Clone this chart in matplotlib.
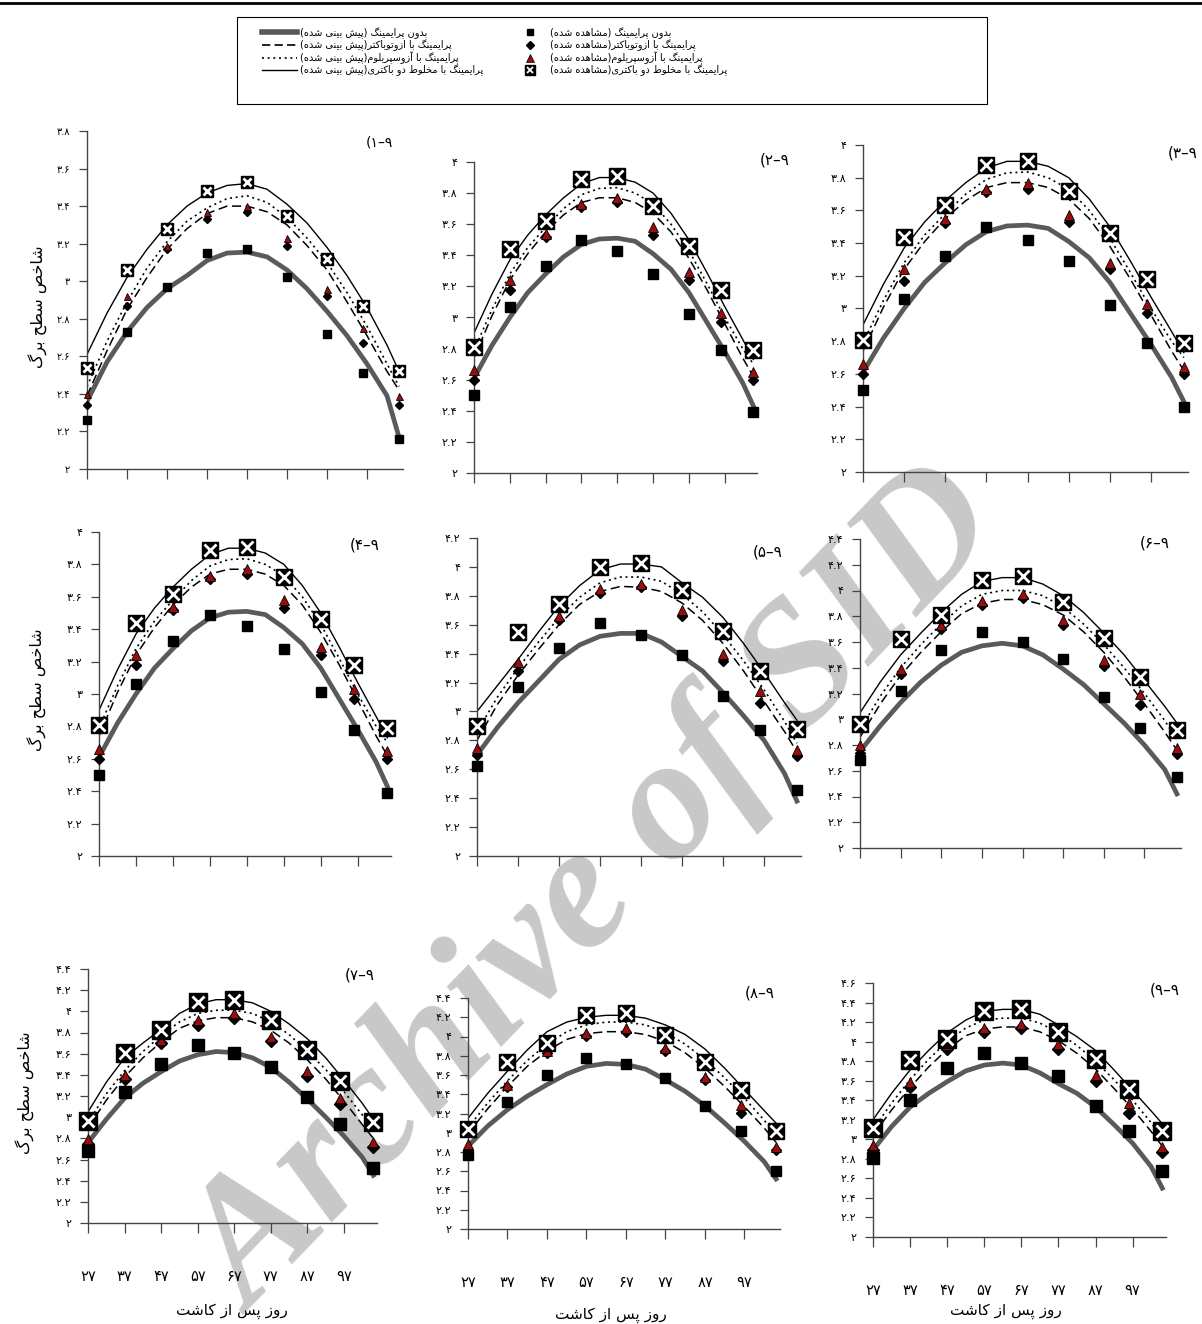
# -*- coding: utf-8 -*-
"""
Leaf area index vs days after sowing, 9 panels (observed vs predicted)
"""
import matplotlib
matplotlib.use("Agg")
import matplotlib.pyplot as plt
from matplotlib.lines import Line2D
from matplotlib.patches import Rectangle
from matplotlib.ticker import FuncFormatter, MultipleLocator

plt.rcParams['font.family'] = ['DejaVu Sans']

W, H = 1202, 1324

# ---------------- data ----------------
obs_days = [27, 37, 47, 57, 67, 77, 87, 96, 105]
fit_days = [27, 32, 37, 42, 47, 52, 57, 62, 67, 72, 77, 82, 87, 92, 97, 102, 105]
tick_days = [27, 37, 47, 57, 67, 77, 87, 97]
y_top = [3.8, 4, 4, 4, 4.2, 4.4, 4.4, 4.4, 4.6]

# observed (one row per panel)
obs_none = [
    [2.26, 2.73, 2.97, 3.15, 3.17, 3.02, 2.72, 2.51, 2.16],
    [2.50, 3.07, 3.33, 3.50, 3.43, 3.28, 3.02, 2.79, 2.39],
    [2.50, 3.06, 3.32, 3.50, 3.42, 3.29, 3.02, 2.79, 2.40],
    [2.50, 3.06, 3.33, 3.49, 3.42, 3.28, 3.01, 2.78, 2.39],
    [2.62, 3.17, 3.44, 3.61, 3.53, 3.39, 3.11, 2.87, 2.46],
    [2.68, 3.22, 3.54, 3.68, 3.60, 3.47, 3.17, 2.93, 2.55],
    [2.68, 3.24, 3.50, 3.68, 3.61, 3.47, 3.19, 2.94, 2.52],
    [2.77, 3.32, 3.60, 3.78, 3.71, 3.57, 3.28, 3.02, 2.60],
    [2.81, 3.40, 3.73, 3.88, 3.78, 3.65, 3.34, 3.09, 2.68],
]
obs_azoto = [
    [2.34, 2.87, 3.17, 3.33, 3.37, 3.19, 2.92, 2.67, 2.34],
    [2.60, 3.18, 3.52, 3.71, 3.74, 3.53, 3.24, 2.97, 2.60],
    [2.60, 3.17, 3.52, 3.71, 3.73, 3.53, 3.24, 2.97, 2.60],
    [2.60, 3.18, 3.52, 3.71, 3.74, 3.53, 3.24, 2.97, 2.60],
    [2.70, 3.28, 3.63, 3.82, 3.86, 3.66, 3.35, 3.06, 2.69],
    [2.74, 3.35, 3.70, 3.89, 3.94, 3.73, 3.41, 3.11, 2.73],
    [2.75, 3.36, 3.70, 3.87, 3.94, 3.72, 3.39, 3.12, 2.72],
    [2.82, 3.48, 3.83, 4.01, 4.05, 3.85, 3.55, 3.21, 2.82],
    [2.89, 3.54, 3.92, 4.10, 4.14, 3.92, 3.60, 3.27, 2.87],
]
obs_azosp = [
    [2.40, 2.92, 3.19, 3.37, 3.40, 3.23, 2.96, 2.75, 2.39],
    [2.66, 3.24, 3.54, 3.73, 3.77, 3.58, 3.29, 3.03, 2.65],
    [2.66, 3.24, 3.55, 3.73, 3.77, 3.57, 3.28, 3.03, 2.64],
    [2.66, 3.24, 3.54, 3.73, 3.77, 3.58, 3.29, 3.03, 2.65],
    [2.75, 3.34, 3.66, 3.85, 3.88, 3.70, 3.40, 3.14, 2.73],
    [2.80, 3.39, 3.73, 3.92, 3.97, 3.77, 3.46, 3.20, 2.78],
    [2.79, 3.40, 3.73, 3.92, 3.98, 3.76, 3.44, 3.18, 2.77],
    [2.88, 3.50, 3.85, 4.04, 4.09, 3.88, 3.58, 3.29, 2.85],
    [2.94, 3.59, 3.97, 4.14, 4.18, 3.98, 3.66, 3.37, 2.92],
]
obs_mix = [
    [2.54, 3.06, 3.28, 3.48, 3.53, 3.35, 3.12, 2.87, 2.52],
    [2.81, 3.44, 3.62, 3.89, 3.91, 3.72, 3.46, 3.18, 2.79],
    [2.81, 3.44, 3.63, 3.88, 3.90, 3.72, 3.46, 3.18, 2.79],
    [2.81, 3.44, 3.62, 3.89, 3.91, 3.72, 3.46, 3.18, 2.79],
    [2.90, 3.55, 3.74, 4.00, 4.03, 3.84, 3.56, 3.28, 2.88],
    [2.96, 3.62, 3.81, 4.08, 4.11, 3.91, 3.63, 3.33, 2.92],
    [2.96, 3.61, 3.82, 4.09, 4.11, 3.92, 3.63, 3.34, 2.95],
    [3.04, 3.73, 3.93, 4.22, 4.24, 4.02, 3.74, 3.44, 3.02],
    [3.12, 3.81, 4.03, 4.31, 4.33, 4.10, 3.82, 3.51, 3.09],
]

# predicted curves (read along fit_days)
fit_none = [
    [2.36, 2.57, 2.73, 2.86, 2.96, 3.03, 3.11, 3.15, 3.155, 3.13, 3.06, 2.96, 2.84, 2.71, 2.56, 2.39, 2.17],
    [2.61, 2.82, 3.00, 3.16, 3.28, 3.39, 3.47, 3.505, 3.51, 3.49, 3.41, 3.31, 3.16, 2.97, 2.78, 2.58, 2.43],
    [2.61, 2.82, 3.00, 3.16, 3.28, 3.39, 3.47, 3.505, 3.51, 3.49, 3.41, 3.31, 3.16, 2.97, 2.78, 2.58, 2.43],
    [2.61, 2.82, 3.00, 3.16, 3.28, 3.39, 3.47, 3.505, 3.51, 3.49, 3.41, 3.31, 3.16, 2.97, 2.78, 2.58, 2.43],
    [2.70, 2.89, 3.06, 3.21, 3.36, 3.46, 3.52, 3.54, 3.54, 3.48, 3.38, 3.28, 3.13, 2.97, 2.80, 2.57, 2.38],
    [2.75, 2.95, 3.13, 3.29, 3.42, 3.52, 3.57, 3.59, 3.57, 3.50, 3.39, 3.27, 3.12, 2.97, 2.80, 2.61, 2.42],
    [2.76, 2.98, 3.18, 3.32, 3.43, 3.53, 3.59, 3.62, 3.61, 3.56, 3.47, 3.33, 3.17, 3.00, 2.82, 2.62, 2.45],
    [2.86, 3.07, 3.24, 3.38, 3.50, 3.61, 3.69, 3.72, 3.71, 3.66, 3.55, 3.43, 3.28, 3.10, 2.91, 2.70, 2.52],
    [2.89, 3.13, 3.33, 3.47, 3.59, 3.70, 3.76, 3.78, 3.76, 3.68, 3.57, 3.47, 3.33, 3.15, 2.96, 2.72, 2.50],
]
fit_azoto = [
    [2.39, 2.63, 2.85, 3.02, 3.17, 3.28, 3.36, 3.40, 3.40, 3.37, 3.30, 3.19, 3.06, 2.89, 2.71, 2.52, 2.42],
    [2.74, 3.01, 3.24, 3.41, 3.55, 3.66, 3.74, 3.77, 3.77, 3.74, 3.67, 3.55, 3.38, 3.18, 2.96, 2.74, 2.62],
    [2.74, 3.01, 3.24, 3.41, 3.55, 3.66, 3.74, 3.77, 3.77, 3.74, 3.67, 3.55, 3.38, 3.18, 2.96, 2.74, 2.62],
    [2.74, 3.01, 3.24, 3.41, 3.55, 3.66, 3.74, 3.77, 3.77, 3.74, 3.67, 3.55, 3.38, 3.18, 2.96, 2.74, 2.62],
    [2.80, 3.05, 3.25, 3.43, 3.60, 3.74, 3.83, 3.865, 3.86, 3.83, 3.75, 3.63, 3.47, 3.28, 3.07, 2.86, 2.72],
    [2.86, 3.12, 3.34, 3.52, 3.68, 3.82, 3.90, 3.93, 3.93, 3.89, 3.81, 3.68, 3.52, 3.33, 3.12, 2.90, 2.76],
    [2.90, 3.16, 3.38, 3.56, 3.71, 3.84, 3.91, 3.94, 3.94, 3.90, 3.82, 3.70, 3.54, 3.36, 3.15, 2.93, 2.80],
    [2.99, 3.25, 3.48, 3.69, 3.85, 3.97, 4.03, 4.05, 4.05, 4.02, 3.95, 3.83, 3.67, 3.48, 3.27, 3.05, 2.90],
    [3.04, 3.30, 3.53, 3.74, 3.92, 4.06, 4.13, 4.15, 4.15, 4.10, 4.01, 3.88, 3.72, 3.52, 3.31, 3.08, 2.93],
]
fit_azosp = [
    [2.44, 2.68, 2.89, 3.07, 3.21, 3.32, 3.39, 3.44, 3.455, 3.42, 3.34, 3.23, 3.10, 2.94, 2.76, 2.56, 2.44],
    [2.79, 3.05, 3.28, 3.45, 3.58, 3.70, 3.79, 3.83, 3.835, 3.80, 3.73, 3.60, 3.43, 3.22, 3.00, 2.80, 2.70],
    [2.79, 3.05, 3.28, 3.45, 3.58, 3.70, 3.79, 3.83, 3.835, 3.80, 3.73, 3.60, 3.43, 3.22, 3.00, 2.80, 2.70],
    [2.79, 3.05, 3.28, 3.45, 3.58, 3.70, 3.79, 3.83, 3.835, 3.80, 3.73, 3.60, 3.43, 3.22, 3.00, 2.80, 2.70],
    [2.86, 3.10, 3.30, 3.48, 3.65, 3.79, 3.89, 3.93, 3.93, 3.90, 3.81, 3.69, 3.53, 3.35, 3.15, 2.93, 2.78],
    [2.92, 3.18, 3.40, 3.58, 3.74, 3.88, 3.97, 4.00, 4.00, 3.96, 3.87, 3.74, 3.58, 3.40, 3.20, 2.99, 2.84],
    [2.95, 3.22, 3.44, 3.62, 3.77, 3.90, 3.98, 4.01, 4.01, 3.98, 3.90, 3.78, 3.62, 3.45, 3.24, 3.02, 2.88],
    [3.05, 3.31, 3.54, 3.75, 3.92, 4.05, 4.12, 4.15, 4.15, 4.12, 4.04, 3.92, 3.76, 3.57, 3.36, 3.13, 2.97],
    [3.10, 3.37, 3.61, 3.82, 4.00, 4.14, 4.22, 4.24, 4.24, 4.19, 4.09, 3.96, 3.80, 3.61, 3.40, 3.17, 3.00],
]
fit_mix = [
    [2.61, 2.83, 3.02, 3.17, 3.30, 3.40, 3.47, 3.51, 3.52, 3.49, 3.41, 3.31, 3.18, 3.03, 2.86, 2.66, 2.52],
    [2.90, 3.15, 3.37, 3.53, 3.66, 3.77, 3.86, 3.90, 3.90, 3.87, 3.80, 3.67, 3.50, 3.29, 3.07, 2.86, 2.73],
    [2.90, 3.15, 3.37, 3.53, 3.66, 3.77, 3.86, 3.90, 3.90, 3.87, 3.80, 3.67, 3.50, 3.29, 3.07, 2.86, 2.73],
    [2.90, 3.15, 3.37, 3.53, 3.66, 3.77, 3.86, 3.90, 3.90, 3.87, 3.80, 3.67, 3.50, 3.29, 3.07, 2.86, 2.73],
    [3.00, 3.18, 3.36, 3.55, 3.73, 3.87, 3.98, 4.02, 4.02, 4.00, 3.89, 3.79, 3.65, 3.47, 3.27, 3.06, 2.94],
    [3.05, 3.29, 3.50, 3.67, 3.83, 3.97, 4.07, 4.10, 4.10, 4.05, 3.96, 3.83, 3.67, 3.50, 3.30, 3.10, 2.97],
    [3.05, 3.33, 3.56, 3.70, 3.83, 3.98, 4.07, 4.11, 4.11, 4.08, 4.00, 3.88, 3.74, 3.56, 3.35, 3.13, 2.98],
    [3.15, 3.41, 3.64, 3.86, 4.05, 4.15, 4.20, 4.22, 4.22, 4.19, 4.12, 4.02, 3.87, 3.67, 3.45, 3.23, 3.10],
    [3.20, 3.47, 3.71, 3.91, 4.09, 4.22, 4.31, 4.33, 4.33, 4.28, 4.17, 4.05, 3.91, 3.71, 3.50, 3.29, 3.16],
]

labels_fit = ["بدون پرایمینگ (پیش بینی شده)",
              "پرایمینگ با ازوتوباکتر(پیش بینی شده)",
              "پرایمینگ با آزوسپریلوم(پیش بینی شده)",
              "پرایمینگ با مخلوط دو باکتری(پیش بینی شده)"]
labels_obs = ["بدون پرایمینگ (مشاهده شده)",
              "پرایمینگ با ازوتوباکتر(مشاهده شده)",
              "پرایمینگ با آزوسپریلوم(مشاهده شده)",
              "پرایمینگ با مخلوط دو باکتری(مشاهده شده)"]
ylabel_txt = "شاخص سطح برگ"
xlabel_txt = "روز پس از کاشت"

# ------------- layout (pixels: left, top, width, bottom) -------------
boxes = [(87, 131, 316, 469), (474, 162, 283, 473), (863, 145, 325, 472),
         (99, 532, 292, 856), (477, 538, 324, 856), (860, 539, 321, 848),
         (88, 969, 289, 1223), (468, 998, 312, 1229), (873, 983, 293, 1237)]
title_pos = [(393, 142), (790, 160), (1198, 153), (380, 545), (783, 552),
             (1170, 543), (375, 975), (775, 993), (1180, 990)]
xlabel_pos = [(232, 1311), (611, 1315), (1006, 1311)]
ylabel_pos = [(38, 307), (37, 690), (25, 1093)]
mscale = [0.72, 1.0, 1.0, 1.0, 1.0, 1.0, 1.1, 1.05, 1.1]

# ------------- Persian text helpers -------------
_SHAPES = {'ا': (0xFE8D, 0), 'آ': (0xFE81, 0), 'د': (0xFEA9, 0), 'ر': (0xFEAD, 0),
           'ز': (0xFEAF, 0), 'و': (0xFEED, 0),
           'ب': (0xFE8F, 1), 'ت': (0xFE95, 1), 'ح': (0xFEA1, 1), 'خ': (0xFEA5, 1),
           'س': (0xFEB1, 1), 'ش': (0xFEB5, 1), 'ص': (0xFEB9, 1), 'ط': (0xFEC1, 1),
           'ل': (0xFEDD, 1), 'م': (0xFEE1, 1), 'ن': (0xFEE5, 1), 'ه': (0xFEE9, 1),
           'ی': (0xFBFC, 1), 'پ': (0xFB56, 1), 'ک': (0xFB8E, 1), 'گ': (0xFB92, 1)}


def fa(text):
    out = []
    for i, ch in enumerate(text):
        if ch not in _SHAPES:
            out.append(ch)
            continue
        base, dual = _SHAPES[ch]
        prev = text[i - 1] if i > 0 else ''
        nxt = text[i + 1] if i + 1 < len(text) else ''
        j_prev = prev in _SHAPES and _SHAPES[prev][1] == 1
        j_next = dual == 1 and nxt in _SHAPES
        out.append(chr(base + (1 if j_prev else 0) + (2 if j_next else 0)))
    mirror = {'(': ')', ')': '('}
    return ''.join(mirror.get(c, c) for c in reversed(out))


FA_DIGITS = str.maketrans('0123456789', '۰۱۲۳۴۵۶۷۸۹')


def fa_num(v, pos=None):
    s = ('%.1f' % v).rstrip('0').rstrip('.')
    return s.translate(FA_DIGITS)


# ------------- figure -------------
fig = plt.figure(figsize=(W / 100, H / 100), dpi=100)

fig.text(598 / W, 1 - 893 / H, "Archive of SID", fontsize=126, color='#c8c8c8',
         family='Liberation Serif', weight='bold', style='italic',
         rotation=46, ha='center', va='center', rotation_mode='anchor', zorder=-5)

fig.add_artist(Line2D([0, 1], [1 - 3 / H, 1 - 3 / H], color='black', lw=2,
                      transform=fig.transFigure))

for i in range(9):
    l, t, w, b = boxes[i]
    ax = fig.add_axes([l / W, 1 - b / H, w / W, (b - t) / H])
    ax.set_facecolor('none')
    ms = mscale[i]

    ax.plot(fit_days, fit_none[i], color='#5a5a5a', lw=3.4, zorder=2)
    ax.plot(fit_days, fit_azoto[i], color='black', lw=1.1, dashes=(6, 3), zorder=2)
    ax.plot(fit_days, fit_azosp[i], color='black', lw=1.2, dashes=(1.2, 2.2), zorder=2)
    ax.plot(fit_days, fit_mix[i], color='black', lw=1.0, zorder=2)

    ax.plot(obs_days, obs_none[i], 's', color='black', ms=7.2 * ms, clip_on=False, zorder=3)
    ax.plot(obs_days, obs_azoto[i], 'D', color='black', ms=5.2 * ms, clip_on=False, zorder=3)
    ax.plot(obs_days, obs_azosp[i], '^', mfc='#9b0d0d', mec='black', mew=0.6,
            ms=7.0 * ms, clip_on=False, zorder=4)
    ax.plot(obs_days, obs_mix[i], 's', color='black', ms=11.5 * ms, clip_on=False, zorder=5)
    ax.plot(obs_days, obs_mix[i], 'x', color='white', mew=2.0, ms=8.5 * ms,
            clip_on=False, zorder=6)

    ax.set_xlim(27, 106)
    ax.set_ylim(2, y_top[i])
    ax.set_xticks(tick_days)
    ax.yaxis.set_major_locator(MultipleLocator(0.2))
    ax.yaxis.set_major_formatter(FuncFormatter(fa_num))
    for s in ('top', 'right'):
        ax.spines[s].set_visible(False)
    for s in ('left', 'bottom'):
        ax.spines[s].set_color('#444444')
        ax.spines[s].set_linewidth(1.0)
    ax.tick_params(axis='y', direction='out', length=6, width=0.9, color='#444444',
                   labelsize=8 if i else 7, pad=6)
    ax.tick_params(axis='x', direction='out', length=7, width=0.9, color='#444444',
                   labelsize=10.5, pad=26, labelbottom=(i >= 6))
    if i >= 6:
        ax.set_xticklabels([str(d).translate(FA_DIGITS) for d in tick_days])

    tx, ty = title_pos[i]
    fig.text(tx / W, 1 - ty / H, '(' + str(i + 1).translate(FA_DIGITS) + '–۹',
             fontsize=11 if i else 10, ha='right', va='center')

for x, y in xlabel_pos:
    fig.text(x / W, 1 - y / H, fa(xlabel_txt), fontsize=11, ha='center', va='center')

for x, y in ylabel_pos:
    fig.text(x / W, 1 - y / H, fa(ylabel_txt), rotation=90, fontsize=11.5,
             ha='center', va='center')

# legend
fig.add_artist(Rectangle((237 / W, 1 - 104 / H), 750 / W, 87 / H, fill=False,
                         lw=0.8, ec='black', transform=fig.transFigure))
h_fit = [Line2D([], [], color='#5a5a5a', lw=4),
         Line2D([], [], color='black', lw=1.2, dashes=(5, 2.5)),
         Line2D([], [], color='black', lw=1.2, dashes=(1.2, 2.2)),
         Line2D([], [], color='black', lw=1.0)]
h_obs = [Line2D([], [], ls='none', marker='s', color='black', ms=5),
         Line2D([], [], ls='none', marker='D', color='black', ms=4),
         Line2D([], [], ls='none', marker='^', mfc='#9b0d0d', mec='black', mew=0.5, ms=5.5),
         (Line2D([], [], ls='none', marker='s', color='black', ms=7),
          Line2D([], [], ls='none', marker='x', color='white', mew=1.3, ms=5))]
fig.legend(h_fit + h_obs, [fa(s) for s in labels_fit + labels_obs],
           loc='upper left', bbox_to_anchor=(262 / W, 1 - 27 / H), ncol=2,
           frameon=False, fontsize=7, handlelength=3.6, handletextpad=0.3,
           columnspacing=3.0, labelspacing=0.05, borderpad=0, borderaxespad=0)

fig.savefig('out.png', dpi=100)
